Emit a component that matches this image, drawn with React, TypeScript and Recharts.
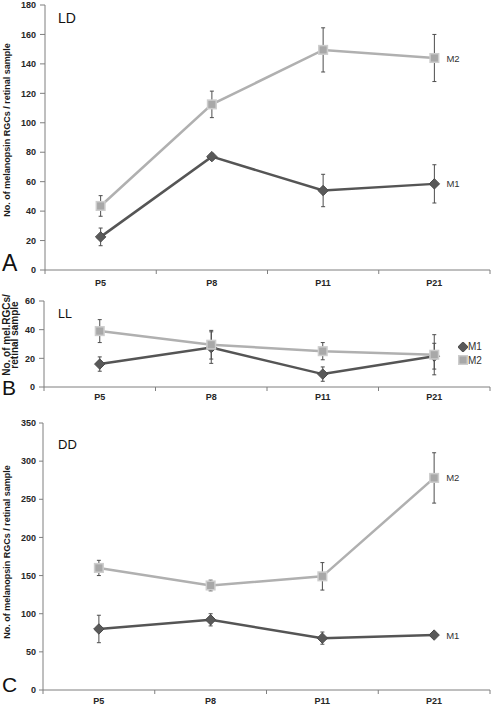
import React from "react";
import {
  ComposedChart,
  ErrorBar,
  LabelList,
  Legend,
  Line,
  XAxis,
  YAxis,
} from "recharts";

// postnatal ages on the x axis
const ages = ["P5", "P8", "P11", "P21"];

// A: light/dark
const ldM1 = [22.5, 77, 54, 58.5];
const ldM1Err = [6, 2, 11, 13];
const ldM2 = [43.5, 112.5, 149.5, 144];
const ldM2Err = [7, 9, 15, 16];

// B: constant light
const llM1 = [16, 27.5, 9, 21.5];
const llM1Err = [5, 11, 5, 9];
const llM2 = [39, 29.5, 25, 22.5];
const llM2Err = [8, 10, 6, 14];

// C: constant dark
const ddM1 = [80, 92, 68, 72];
const ddM1Err = [18, 8, 8, 2];
const ddM2 = [160, 137, 149, 278];
const ddM2Err = [10, 7, 18, 33];

const ldTicks = [0, 20, 40, 60, 80, 100, 120, 140, 160, 180];
const llTicks = [0, 20, 40, 60];
const ddTicks = [0, 50, 100, 150, 200, 250, 300, 350];

const font = "'Liberation Sans', Arial, Helvetica, sans-serif";
const axisGray = "#7f7f7f";
const dark = "#555555";
const light = "#b0b0b0";
const errColor = "#4d4d4d";

function rows(m1: number[], m1Err: number[], m2: number[], m2Err: number[]) {
  return ages.map((age, i) => ({
    age,
    m1: m1[i],
    m1Err: m1Err[i],
    m2: m2[i],
    m2Err: m2Err[i],
  }));
}

const Diamond = ({ cx, cy }: any) => {
  if (cx == null || cy == null) return null;
  const s = 5.2;
  return (
    <path
      d={`M${cx},${cy - s}L${cx + s},${cy}L${cx},${cy + s}L${cx - s},${cy}Z`}
      fill="#595959"
      stroke="#4a4a4a"
      strokeWidth={1}
    />
  );
};

const Square = ({ cx, cy }: any) => {
  if (cx == null || cy == null) return null;
  const s = 4.3;
  return (
    <rect
      x={cx - s}
      y={cy - s}
      width={s * 2}
      height={s * 2}
      fill="#a8a8a8"
      stroke="#cdcdcd"
      strokeWidth={1.5}
    />
  );
};

const BandTick = (props: any) => {
  const { x, y, payload, index, bandWidth, labelDy } = props;
  const half = bandWidth / 2;
  return (
    <g>
      <line x1={x - half} x2={x - half} y1={y} y2={y + 4} stroke={axisGray} />
      {index === ages.length - 1 && (
        <line x1={x + half} x2={x + half} y1={y} y2={y + 4} stroke={axisGray} />
      )}
      <text
        x={x}
        y={y + labelDy}
        textAnchor="middle"
        fontFamily={font}
        fontSize={9}
        fontWeight="bold"
        fill="#262626"
      >
        {payload.value}
      </text>
    </g>
  );
};

const endLabel = (name: string, dx: number) => (p: any) => {
  if (p.index !== ages.length - 1) return null;
  const vb = p.viewBox ?? {};
  const x = vb.x ?? p.x;
  const y = vb.y ?? p.y;
  return (
    <text
      key={name}
      x={x + dx}
      y={y}
      dy={3.5}
      fontFamily={font}
      fontSize={9.5}
      fill="#333"
    >
      {name}
    </text>
  );
};

const legendContent = (props: any) => {
  const { payload = [] } = props;
  return (
    <div style={{ fontFamily: font, fontSize: 10, color: "#333" }}>
      {payload.map((entry: any) => (
        <div
          key={entry.value}
          style={{ display: "flex", alignItems: "center", height: 13.5 }}
        >
          <svg width={10} height={10}>
            {entry.value === "M1" ? (
              <Diamond cx={5} cy={5} />
            ) : (
              <Square cx={5} cy={5} />
            )}
          </svg>
          <span>{entry.value}</span>
        </div>
      ))}
    </div>
  );
};

type PanelProps = {
  data: any[];
  top: number;
  height: number;
  left: number;
  marginTop: number;
  xAxisHeight: number;
  domain: [number, number];
  ticks: number[];
  tickSize: number;
  tickMargin: number;
  labelDy: number;
  endLabels: boolean;
  legend: boolean;
};

const W = 492;
const RIGHT = 2;

function Panel(p: PanelProps) {
  const bandWidth = (W - p.left - RIGHT) / ages.length;
  return (
    <div style={{ position: "absolute", left: 0, top: p.top }}>
      <ComposedChart
        width={W}
        height={p.height}
        data={p.data}
        margin={{ top: p.marginTop, right: RIGHT, bottom: 0, left: 0 }}
      >
        <XAxis
          dataKey="age"
          scale="band"
          height={p.xAxisHeight}
          stroke={axisGray}
          tickLine={false}
          tickSize={0}
          tickMargin={0}
          interval={0}
          tick={<BandTick bandWidth={bandWidth} labelDy={p.labelDy} />}
        />
        <YAxis
          width={p.left}
          domain={p.domain}
          ticks={p.ticks}
          interval={0}
          stroke={axisGray}
          tickSize={p.tickSize}
          tickMargin={p.tickMargin}
          tick={{
            fontFamily: font,
            fontSize: 9,
            fontWeight: "bold",
            fill: "#262626",
          }}
        />
        {p.legend && (
          <Legend
            layout="vertical"
            align="center"
            verticalAlign="middle"
            content={legendContent}
            wrapperStyle={{ left: 458, top: 50, width: 34 }}
          />
        )}
        <Line
          dataKey="m1"
          name="M1"
          stroke={dark}
          strokeWidth={2.5}
          dot={(d: any) => <Diamond key={`m1-${d.index}`} {...d} />}
          activeDot={false}
          isAnimationActive={false}
        >
          <ErrorBar
            dataKey="m1Err"
            direction="y"
            width={2}
            stroke={errColor}
            strokeWidth={1}
          />
          {p.endLabels && (
            <LabelList dataKey="m1" content={endLabel("M1", 12)} />
          )}
        </Line>
        <Line
          dataKey="m2"
          name="M2"
          stroke={light}
          strokeWidth={2.5}
          dot={(d: any) => <Square key={`m2-${d.index}`} {...d} />}
          activeDot={false}
          isAnimationActive={false}
        >
          <ErrorBar
            dataKey="m2Err"
            direction="y"
            width={2}
            stroke={errColor}
            strokeWidth={1}
          />
          {p.endLabels && (
            <LabelList dataKey="m2" content={endLabel("M2", 12)} />
          )}
        </Line>
      </ComposedChart>
    </div>
  );
}

export default function App() {
  const titleStyle = {
    fontFamily: font,
    fontSize: 9,
    fontWeight: "bold" as const,
    fill: "#1a1a1a",
  };
  return (
    <div
      style={{
        position: "absolute",
        left: 0,
        top: 0,
        width: W,
        height: 705,
        background: "#fff",
      }}
    >
      <Panel
        data={rows(ldM1, ldM1Err, ldM2, ldM2Err)}
        top={0}
        height={290}
        left={45}
        marginTop={5}
        xAxisHeight={20}
        domain={[0, 180]}
        ticks={ldTicks}
        tickSize={5}
        tickMargin={4}
        labelDy={16}
        endLabels
        legend={false}
      />
      <Panel
        data={rows(llM1, llM1Err, llM2, llM2Err)}
        top={290}
        height={113}
        left={44}
        marginTop={11}
        xAxisHeight={16}
        domain={[0, 60]}
        ticks={llTicks}
        tickSize={5}
        tickMargin={4}
        labelDy={13}
        endLabels={false}
        legend
      />
      <Panel
        data={rows(ddM1, ddM1Err, ddM2, ddM2Err)}
        top={405}
        height={300}
        left={43}
        marginTop={18}
        xAxisHeight={15}
        domain={[0, 350]}
        ticks={ddTicks}
        tickSize={4}
        tickMargin={3}
        labelDy={14}
        endLabels
        legend={false}
      />
      <svg
        width={W}
        height={705}
        style={{ position: "absolute", left: 0, top: 0, pointerEvents: "none" }}
      >
        <text
          transform="translate(10,130) rotate(-90)"
          textAnchor="middle"
          {...titleStyle}
        >
          No. of melanopsin RGCs / retinal sample
        </text>
        <text
          transform="translate(10,335) rotate(-90)"
          textAnchor="middle"
          {...titleStyle}
          fontSize={10}
        >
          No. of mel.RGCs/
        </text>
        <text
          transform="translate(18,335) rotate(-90)"
          textAnchor="middle"
          {...titleStyle}
          fontSize={10}
        >
          retinal sample
        </text>
        <text
          transform="translate(10,552) rotate(-90)"
          textAnchor="middle"
          {...titleStyle}
        >
          No. of melanopsin RGCs / retinal sample
        </text>

        <text x={58} y={23} fontFamily={font} fontSize={14} fill="#111">
          LD
        </text>
        <text x={58} y={318} fontFamily={font} fontSize={12.5} fill="#111">
          LL
        </text>
        <text x={58} y={449} fontFamily={font} fontSize={13} fill="#111">
          DD
        </text>

        <text x={2} y={271} fontFamily={font} fontSize={23} fill="#111">
          A
        </text>
        <text x={2} y={395} fontFamily={font} fontSize={21} fill="#111">
          B
        </text>
        <text x={2} y={692} fontFamily={font} fontSize={21} fill="#111">
          C
        </text>
      </svg>
    </div>
  );
}
